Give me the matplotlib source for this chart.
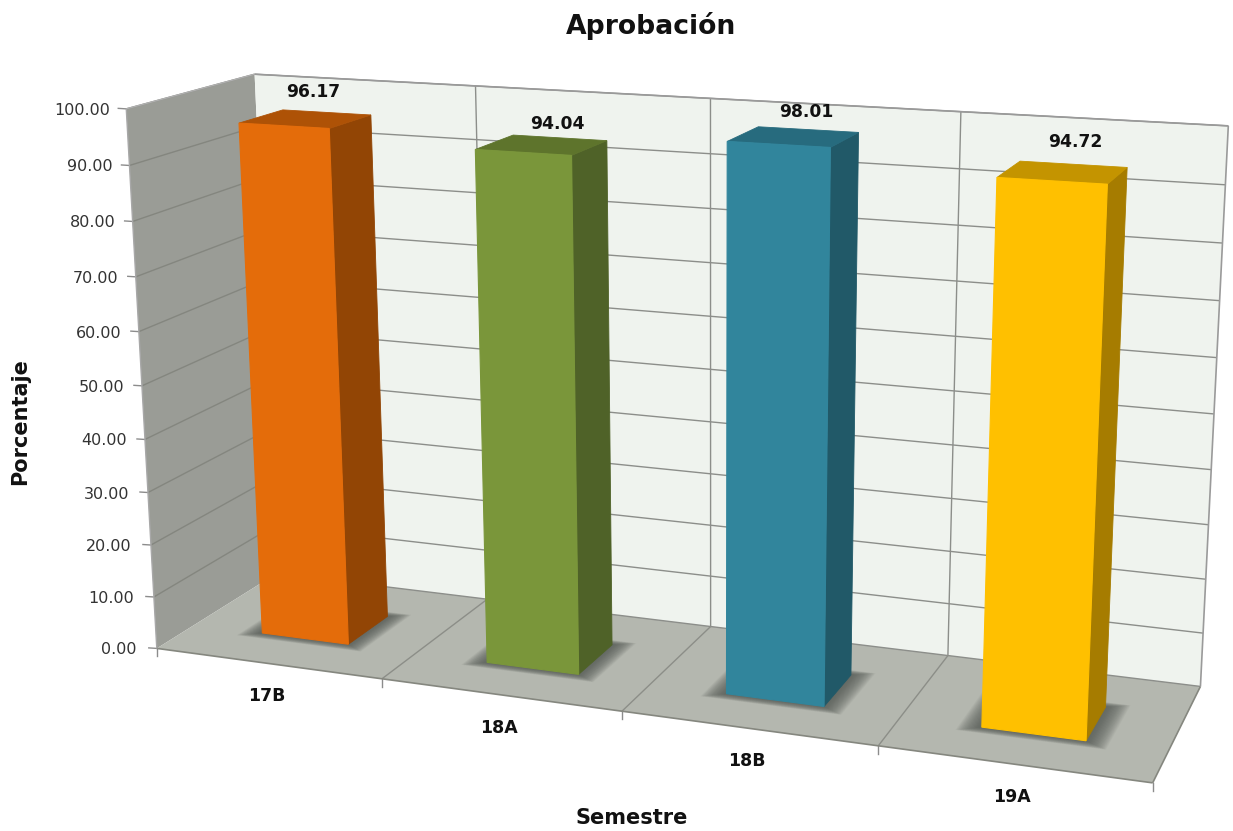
import matplotlib
matplotlib.use('Agg')
import matplotlib.pyplot as plt
import matplotlib.patches as mpatches
import numpy as np

# Datos
semestres = ['17B', '18A', '18B', '19A']
aprobacion = [96.17, 94.04, 98.01, 94.72]
y_ticks = [0, 10, 20, 30, 40, 50, 60, 70, 80, 90, 100]
front_colors = ['#E46C0A', '#7A963A', '#31859C', '#FFC000']
top_colors = ['#AE5206', '#5E742C', '#276B7E', '#C49400']
side_colors = ['#924505', '#4F6228', '#215968', '#A67C00']

# Camera: (category, value, depth) -> image pixel, solved from the box corners
calib = [
    ((0, 0, 0), (157, 648)), ((1, 0, 0), (381, 677)), ((2, 0, 0), (622, 712)),
    ((3, 0, 0), (879, 746)), ((4, 0, 0), (1153, 783)), ((0, 0, 1), (277, 574)),
    ((1, 0, 1), (487, 600)), ((4, 0, 1), (1200, 686)), ((0, 100, 0), (126, 110)),
    ((0, 100, 1), (255, 73)), ((1, 100, 1), (475, 85)), ((2, 100, 1), (711, 100)),
    ((3, 100, 1), (961, 112)), ((4, 100, 1), (1228, 125)),
]
A, b = [], []
for (x, y, z), (u, v) in calib:
    y = y / 100
    A.append([x, y, z, 1, 0, 0, 0, 0, -u * x, -u * y, -u * z])
    A.append([0, 0, 0, 0, x, y, z, 1, -v * x, -v * y, -v * z])
    b += [u, v]
cam = np.append(np.linalg.lstsq(np.array(A, float), np.array(b, float), rcond=None)[0], 1).reshape(3, 4)


def proj(x, y, z):
    u, v, w = cam @ np.array([x, y / 100, z, 1])
    return u / w, v / w


def quad(ax, pts, color, zorder=2, ec='none', lw=0):
    ax.add_patch(mpatches.Polygon([proj(*p) for p in pts], closed=True, facecolor=color,
                                  edgecolor=ec, linewidth=lw, zorder=zorder))


def line(ax, p, q, color, lw=1.0, zorder=3):
    (x0, y0), (x1, y1) = proj(*p), proj(*q)
    ax.plot([x0, x1], [y0, y1], color=color, lw=lw, zorder=zorder, solid_capstyle='butt')


fig = plt.figure(figsize=(12.33, 8.31), dpi=100)
ax = fig.add_axes([0, 0, 1, 1])
ax.set_xlim(0, 1233)
ax.set_ylim(831, 0)
ax.axis('off')

n = len(semestres)
# Paredes y piso
quad(ax, [(0, 0, 0), (0, 100, 0), (0, 100, 1), (0, 0, 1)], '#9A9C96', 1)
quad(ax, [(0, 0, 1), (0, 100, 1), (n, 100, 1), (n, 0, 1)], '#EFF3EE', 1)
quad(ax, [(0, 0, 0), (n, 0, 0), (n, 0, 1), (0, 0, 1)], '#B4B7AF', 1)

for t in y_ticks:
    if t > 0:
        line(ax, (0, t, 0), (0, t, 1), '#84867F', 1.0, 2)
    line(ax, (0, t, 1), (n, t, 1), '#8C8E8A', 1.0, 2)
    u, v = proj(0, t, 0)
    ax.plot([u - 8, u], [v - 0.5, v], color='#8C8C8C', lw=1.0, zorder=2)
    ax.text(u - 20 + 0.04 * t, v + 1.5, f'{t:.2f}', ha='right', va='center', fontsize=11.5, color='#333333')
for i in range(n + 1):
    if 0 < i < n:
        line(ax, (i, 0, 1), (i, 100, 1), '#8C8E8A', 1.0, 2)
        line(ax, (i, 0, 0), (i, 0, 1), '#8C8E88', 1.0, 2)
    u, v = proj(i, 0, 0)
    ax.plot([u, u], [v, v + 8], color='#8C8C8C', lw=1.0, zorder=2)
line(ax, (0, 0, 0), (n, 0, 0), '#85877F', 1.2, 2)
line(ax, (n, 0, 0), (n, 0, 1), '#85877F', 1.2, 2)
line(ax, (n, 0, 1), (n, 100, 1), '#9A9A9A', 1.2, 2)
line(ax, (0, 100, 1), (n, 100, 1), '#9A9A9A', 1.2, 2)
line(ax, (0, 0, 0), (0, 100, 0), '#A8A8A8', 1.0, 2)
line(ax, (0, 100, 0), (0, 100, 1), '#B0B0B0', 1.0, 2)

# Barras
z0, z1 = 0.305, 0.66
nudges = [(-5, -1), (5, 6), (4, 2), (7, -3)]  # las etiquetas no van centradas igual en cada barra
for i, (val, fc, tc, sc) in enumerate(zip(aprobacion, front_colors, top_colors, side_colors)):
    x0, x1 = i + 0.31, i + 0.70
    # sombra difusa en el piso
    for k in range(30, 0, -1):
        d = 0.085 * k / 30
        quad(ax, [(x0 - d, 0, z0 - d * 0.7), (x1 + d, 0, z0 - d * 0.7),
                  (x1 + d, 0, z1 + d * 0.6), (x0 - d, 0, z1 + d * 0.6)], (0.35, 0.37, 0.35, 0.05), 3)
    quad(ax, [(x1, 0, z0), (x1, val, z0), (x1, val, z1), (x1, 0, z1)], sc, 4, sc, 0.6)
    quad(ax, [(x0, val, z0), (x1, val, z0), (x1, val, z1), (x0, val, z1)], tc, 4, tc, 0.6)
    quad(ax, [(x0, 0, z0), (x1, 0, z0), (x1, val, z0), (x0, val, z0)], fc, 5, fc, 0.8)
    u, v = proj(i + 0.5, val, 0.6)
    ax.text(u + nudges[i][0], v - 22 + nudges[i][1], f'{val:.2f}', ha='center', va='center',
            fontsize=12.3, fontweight='bold', color='#111111', zorder=6)
    u, v = proj(i + 0.5, 0, 0)
    ax.text(u - 1, v + 33, semestres[i], ha='center', va='center', fontsize=12.5, fontweight='bold', color='#111111')

ax.text(651, 26, 'Aprobación', ha='center', va='center', fontsize=19.2, fontweight='bold', color='#111111')
ax.text(20, 422, 'Porcentaje', ha='center', va='center', rotation=90, fontsize=15, fontweight='bold', color='#111111')
ax.text(632, 818, 'Semestre', ha='center', va='center', fontsize=15, fontweight='bold', color='#111111')

plt.savefig('out.png', dpi=100, facecolor='white')
plt.close()
